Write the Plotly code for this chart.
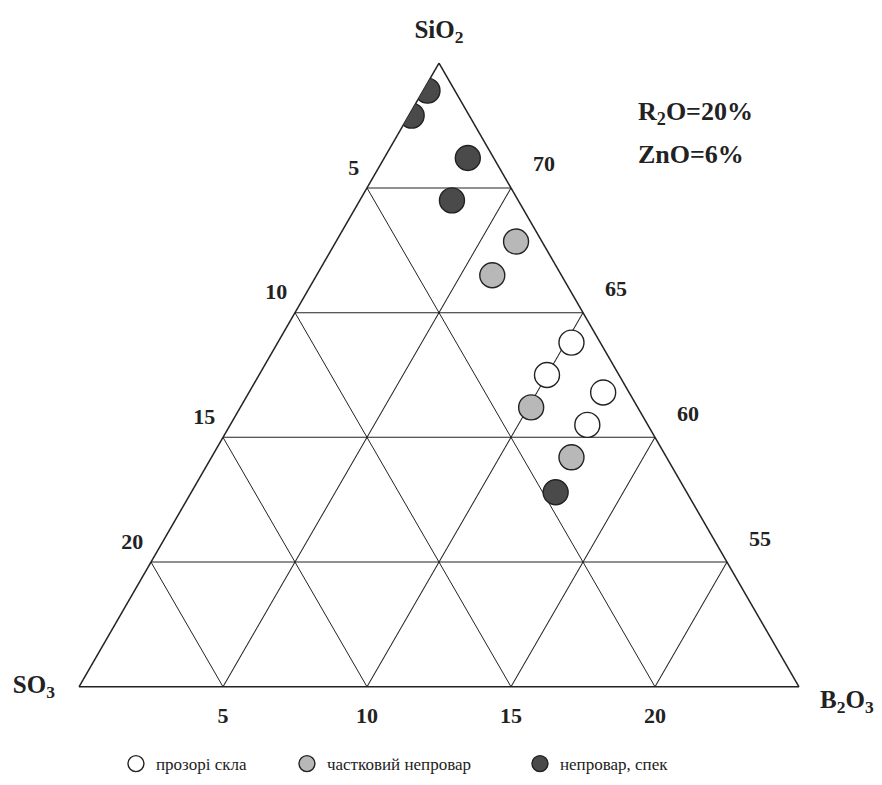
import plotly.graph_objects as go

# ---- data (ternary: SiO2 top, SO3 bottom-left, B2O3 bottom-right; sum = 75) ----
TERNARY_SUM = 75
SIO2_MIN = 50

series_names = ["прозорі скла", "частковий непровар", "непровар, спек"]

clear_sio2 = [63.8, 62.5, 61.8, 60.5]
clear_so3 = [1.0, 2.5, 0.9, 2.1]
clear_b2o3 = [10.2, 10.0, 12.3, 12.4]

partial_sio2 = [67.85, 66.5, 61.2, 59.2]
partial_so3 = [0.9, 2.4, 3.7, 3.3]
partial_b2o3 = [6.25, 6.1, 10.1, 12.5]

unmelted_sio2 = [73.9, 72.9, 71.2, 69.5, 57.8]
unmelted_so3 = [0.95, 2.0, 0.9, 2.3, 4.55]
unmelted_b2o3 = [0.15, 0.1, 2.9, 3.2, 12.65]

sio2_ticks = [70, 65, 60, 55]
so3_ticks = [5, 10, 15, 20]
b2o3_ticks = [5, 10, 15, 20]

FONT = "Liberation Serif"
INK = "#222222"

fig = go.Figure()

# data series
series = [
    (series_names[0], clear_sio2, clear_so3, clear_b2o3, "#ffffff", 126),
    (series_names[1], partial_sio2, partial_so3, partial_b2o3, "#b8b8b8", 188),
    (series_names[2], unmelted_sio2, unmelted_so3, unmelted_b2o3, "#4a4a4a", None),
]
for name, a, b, c, col, lw in series:
    fig.add_trace(go.Scatterternary(
        a=a, b=b, c=c, mode="markers", name=name,
        marker=dict(size=25, color=col, line=dict(color=INK, width=1.4)),
        hoverinfo="a+b+c", legendwidth=lw,
    ))


def label_trace(a, b, c, text, pos, msize, fsize):
    return go.Scatterternary(
        a=a, b=b, c=c, mode="markers+text", text=text, textposition=pos,
        marker=dict(size=msize, opacity=0),
        textfont=dict(family=FONT, size=fsize, color=INK, weight="bold"),
        cliponaxis=False, showlegend=False, hoverinfo="skip",
    )


# left edge labels (SO3)
fig.add_trace(label_trace(
    [TERNARY_SUM - v for v in so3_ticks], so3_ticks, [0] * len(so3_ticks),
    [str(v) for v in so3_ticks], "top left", 11, 22))
# right edge labels (SiO2)
fig.add_trace(label_trace(
    sio2_ticks, [0] * len(sio2_ticks), [TERNARY_SUM - v for v in sio2_ticks],
    ["\u00a0\u00a0" + str(v) for v in sio2_ticks], "top right", 16, 22))
# bottom edge labels (B2O3)
fig.add_trace(label_trace(
    [SIO2_MIN] * len(b2o3_ticks), [TERNARY_SUM - SIO2_MIN - v for v in b2o3_ticks], b2o3_ticks,
    [str(v) for v in b2o3_ticks], "bottom center", 30, 22))

# corner (component) labels
fig.add_trace(label_trace([TERNARY_SUM], [0], [0], ["SiO<sub>2</sub>"], "top center", 29, 25))
fig.add_trace(label_trace([SIO2_MIN], [TERNARY_SUM - SIO2_MIN], [0], ["SO<sub>3</sub>"], "middle left", 37, 25))
fig.add_trace(label_trace([SIO2_MIN], [0], [TERNARY_SUM - SIO2_MIN],
                          ["\u00a0\u00a0\u00a0B<sub>2</sub>O<sub>3</sub>"], "bottom right", 2, 25))

axis_common = dict(
    showticklabels=False, ticks="", showgrid=True, gridcolor=INK, gridwidth=1.2,
    showline=True, linecolor=INK, linewidth=1.5, layer="below traces",
    title=dict(text=""), tickmode="array",
)

fig.update_layout(
    width=882, height=785,
    margin=dict(l=71, r=91, t=55, b=106, autoexpand=False),
    paper_bgcolor="white",
    font=dict(family=FONT, color=INK),
    ternary=dict(
        sum=TERNARY_SUM,
        bgcolor="white",
        domain=dict(x=[0, 1], y=[0, 1]),
        aaxis=dict(min=SIO2_MIN, tickvals=sio2_ticks, **axis_common),
        baxis=dict(min=0, tickvals=so3_ticks, **axis_common),
        caxis=dict(min=0, tickvals=b2o3_ticks, **axis_common),
    ),
    showlegend=True,
    legend=dict(
        orientation="h", xref="container", yref="container",
        x=0.1224, xanchor="left", y=0.0369, yanchor="middle",
        font=dict(family=FONT, size=17, color=INK),
        bgcolor="rgba(0,0,0,0)",
    ),
    annotations=[
        dict(text="<b>R<sub>2</sub>O=20%</b>", xref="paper", yref="paper",
             x=0.7736, y=0.920, xanchor="left", yanchor="middle", showarrow=False,
             font=dict(family=FONT, size=26, color=INK)),
        dict(text="<b>ZnO=6%</b>", xref="paper", yref="paper",
             x=0.7736, y=0.8526, xanchor="left", yanchor="middle", showarrow=False,
             font=dict(family=FONT, size=26, color=INK)),
    ],
)

fig.write_html("out.html")
